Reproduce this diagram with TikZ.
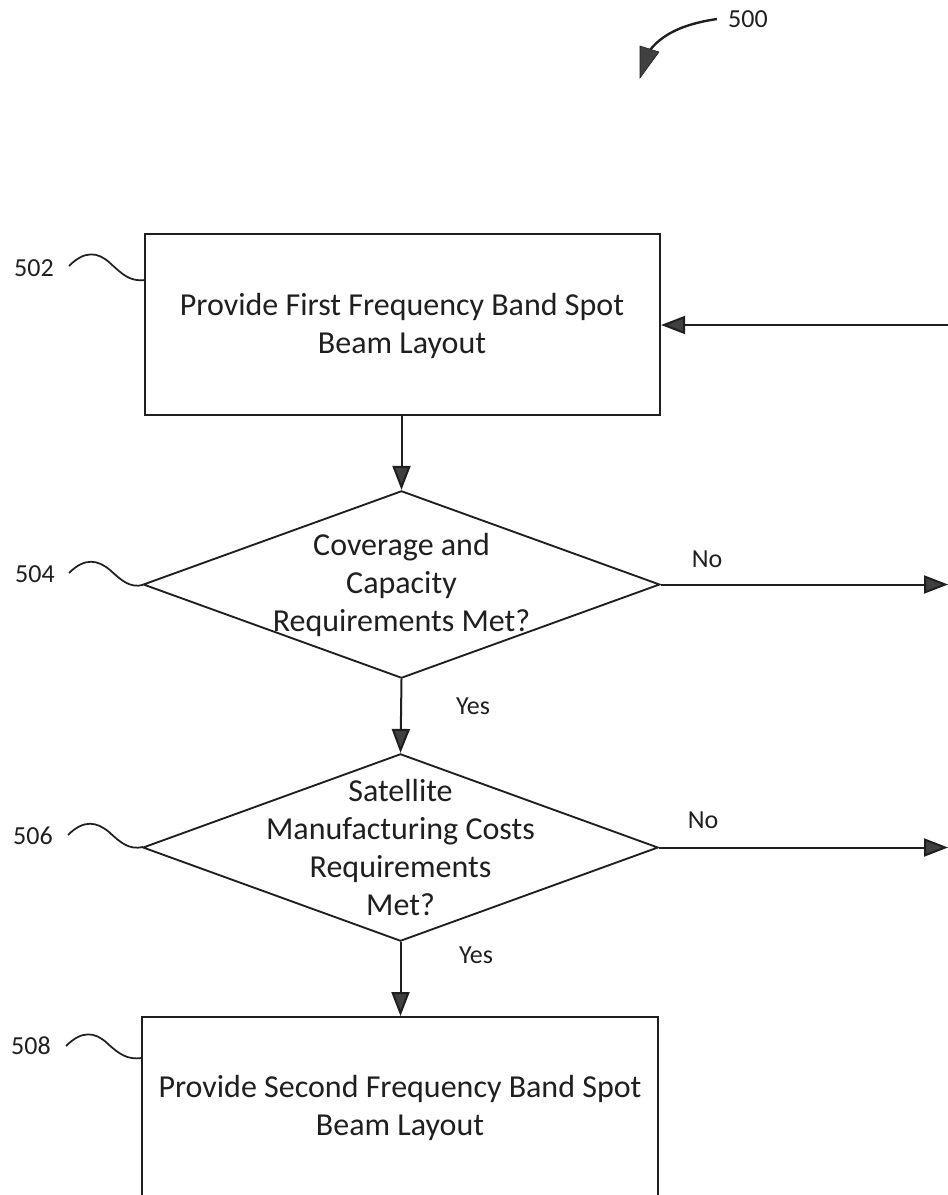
\documentclass[tikz,border=0pt]{standalone}
\usepackage{fontspec}
\setmainfont{Carlito}
\usetikzlibrary{shapes.geometric,arrows.meta}
\definecolor{ink}{gray}{0.12}
\definecolor{headfill}{gray}{0.25}
\tikzset{
  x=0.75pt,y=-0.75pt,
  every node/.style={text=ink,font=\fontsize{24pt}{28.5pt}\selectfont},
  boxnode/.style={draw=ink,line width=1.4pt,rectangle,inner sep=0pt,align=center},
  decision/.style={draw=ink,line width=1.4pt,diamond,inner sep=0pt,shape aspect=2.76},
  flow/.style={draw=ink,line width=1.5pt,-{Triangle[length=18pt,width=13.5pt,fill=headfill]}},
  squiggle/.style={draw=ink,line width=1.3pt},
  reflabel/.style={font=\fontsize{19.5pt}{22pt}\selectfont},
  branchlabel/.style={font=\fontsize{19.5pt}{22pt}\selectfont},
}
\begin{document}
\begin{tikzpicture}
\useasboundingbox (0,0) rectangle (948,1195);
\clip (0,0) rectangle (948,1195);
% boxes
\node[boxnode,minimum width=386.5pt,minimum height=135.5pt] (b502) at (402.5,324.5) {};
\node[align=center] (t502) at (402,326) {Provide First Frequency Band Spot\\Beam Layout};
\node[boxnode,minimum width=387pt,minimum height=135.5pt,anchor=north] (b508) at (400,1016) {};
\node[align=center] (t508) at (400,1107.5) {Provide Second Frequency Band Spot\\Beam Layout};
% decisions
\node[decision,minimum width=387.5pt,minimum height=140.5pt] (d504) at (401.5,584.5) {};
\node[align=center] (t504) at (401.5,585) {Coverage and\\Capacity\\Requirements Met?};
\node[decision,minimum width=386.5pt,minimum height=140.5pt] (d506) at (400.5,847.5) {};
\node[align=center] (t506) at (400.5,847) {Satellite\\Manufacturing Costs\\Requirements\\Met?};
% free ends
\coordinate (inR) at (948,325);
\coordinate (outA) at (948,584.5);
\coordinate (outB) at (948,847.5);
% connectors
\draw[flow] (b502.south -| d504.north) -- (d504.north);
\draw[flow] (d504.south) -- (d506.north);
\draw[flow] (d506.south) -- (d506.south |- b508.north);
\draw[flow] (inR) -- (b502.east |- inR);
\draw[flow] (d504.east) -- (outA);
\draw[flow] (d506.east) -- (outB);
% branch labels
\node[branchlabel] (n1) at (707,559) {No};
\node[branchlabel] (y1) at (473,706) {Yes};
\node[branchlabel] (n2) at (703,820) {No};
\node[branchlabel] (y2) at (476,955) {Yes};
% reference numerals
\node[reflabel] (r500) at (748,19) {500};
\node[reflabel] (r502) at (34,268) {502};
\node[reflabel] (r504) at (35,574) {504};
\node[reflabel] (r506) at (33,836) {506};
\node[reflabel] (r508) at (31,1046) {508};
% squiggles
\draw[squiggle] (69,266) .. controls (85,250) and (98,252) .. (110,263) .. controls (122,274) and (130,282) .. (145,280);
\draw[squiggle] (69,573) .. controls (85,557) and (98,560) .. (110,570) .. controls (122,581) and (130,588) .. (143,585);
\draw[squiggle] (68,835) .. controls (84,819) and (97,822) .. (109,832) .. controls (121,843) and (129,850) .. (143,847);
\draw[squiggle] (66,1046) .. controls (82,1030) and (95,1032) .. (107,1043) .. controls (119,1054) and (127,1060) .. (142,1058);
% 500 arrow
\coordinate (a500) at (717,19);
\draw[draw=ink,line width=1.8pt] (a500) .. controls (690,23) and (665,31) .. (650,50);
\fill[headfill,draw=ink,line width=0.4pt] (640,46) -- (659,52) -- (640,78) -- cycle;
\end{tikzpicture}
\end{document}
